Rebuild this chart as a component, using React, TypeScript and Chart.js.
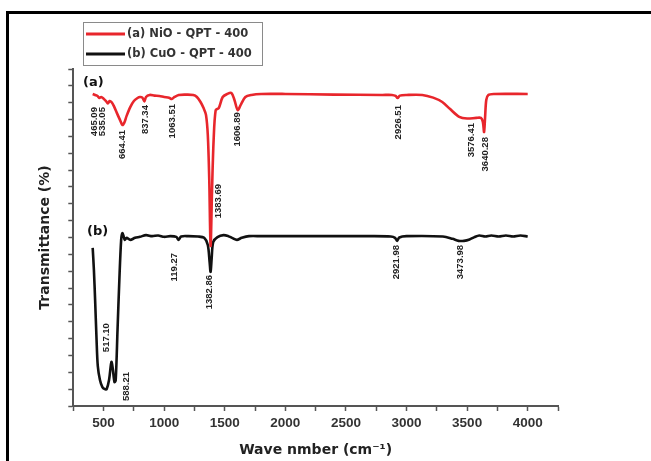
import { useEffect, useRef } from 'react';
import { Chart, registerables } from 'chart.js';

Chart.register(...registerables);

// ---- data (x: wave number in cm-1, y: transmittance, arbitrary offset units) ----
const niOWave = [410, 430, 450, 465, 480, 500, 520, 535, 550, 565, 585, 610, 635, 655, 670, 690, 720, 750, 780, 800, 820, 837, 850, 880, 920, 960, 1000, 1040, 1063, 1085, 1120, 1180, 1240, 1270, 1300, 1325, 1345, 1360, 1372, 1383, 1395, 1408, 1425, 1450, 1483, 1520, 1555, 1580, 1607, 1635, 1670, 1720, 1800, 2000, 2400, 2800, 2880, 2910, 2926, 2945, 3000, 3130, 3220, 3295, 3360, 3435, 3500, 3576, 3614, 3630, 3640, 3648, 3658, 3675, 3720, 4000];
const niOTrans = [92.6, 92.3, 92.0, 91.4, 91.7, 91.2, 90.5, 89.8, 90.5, 90.2, 89.0, 86.9, 84.9, 83.4, 84.0, 86.1, 88.7, 90.5, 91.4, 91.7, 91.5, 90.4, 91.7, 92.3, 92.1, 92.0, 91.7, 91.5, 91.1, 91.7, 92.3, 92.4, 92.3, 91.7, 90.2, 88.4, 86.4, 80.4, 67.1, 47.5, 64.1, 78.9, 87.8, 88.4, 91.7, 92.6, 92.9, 90.8, 87.8, 89.6, 91.7, 92.3, 92.6, 92.6, 92.4, 92.3, 92.3, 92.0, 91.4, 92.1, 92.3, 92.3, 91.5, 90.2, 88.1, 85.8, 85.3, 85.5, 85.5, 84.3, 81.3, 85.5, 90.8, 92.3, 92.6, 92.6];

const cuOWave = [410, 420, 430, 442, 452, 470, 490, 510, 525, 545, 560, 566, 575, 590, 600, 615, 630, 645, 655, 665, 675, 690, 720, 760, 800, 850, 900, 950, 1000, 1050, 1100, 1119, 1140, 1200, 1280, 1330, 1360, 1375, 1383, 1392, 1405, 1440, 1490, 1530, 1560, 1600, 1640, 1700, 1800, 2200, 2700, 2870, 2905, 2922, 2940, 3000, 3300, 3380, 3430, 3474, 3520, 3560, 3600, 3650, 3700, 3760, 3820, 3880, 3940, 4000];
const cuOTrans = [46.9, 40.4, 31.5, 19.6, 11.9, 7.7, 5.6, 5.0, 5.0, 7.7, 12.2, 13.1, 11.3, 7.1, 7.7, 22.6, 37.4, 49.3, 51.3, 50.4, 49.3, 49.9, 49.3, 49.9, 50.2, 50.7, 50.4, 50.6, 50.2, 50.4, 50.2, 49.3, 50.3, 50.4, 50.3, 49.9, 47.8, 42.7, 39.8, 43.9, 48.7, 50.1, 50.7, 50.4, 49.9, 49.3, 49.9, 50.4, 50.4, 50.4, 50.4, 50.3, 49.9, 49.0, 50.0, 50.4, 50.3, 49.6, 49.0, 49.0, 49.4, 50.1, 50.6, 50.3, 50.6, 50.3, 50.6, 50.3, 50.6, 50.3];

// peak annotations: text, anchor wave number, anchor (top of label) in y units
const niOPeakText = ['465.09', '535.05', '664.41', '837.34', '1063.51', '1383.69', '1606.89', '2926.51', '3576.41', '3640.28'];
const niOPeakX = [420, 486, 659, 841, 1071, 1450, 1607, 2932, 3533, 3648];
const niOPeakY = [88.7, 88.7, 81.9, 89.3, 89.6, 65.9, 87.2, 89.3, 84.0, 79.8];

const cuOPeakText = ['517.10', '588.21', '119.27', '1382.86', '2921.98', '3473.98'];
const cuOPeakX = [523, 684, 1088, 1376, 2916, 3444];
const cuOPeakY = [24.6, 10.1, 45.4, 38.9, 47.8, 47.8];

const panelText = ['(a)', '(b)'];
const panelX = [330, 363];
const panelY = [96.1, 51.6];

const seriesLabels = ['(a) NiO - QPT - 400', '(b) CuO - QPT - 400'];
const seriesColors = ['#e8262c', '#111111'];

const xMin = 250;
const xMax = 4250;
const xStep = 250;
const xLabelStep = 500;

const annotationPlugin = {
  id: 'ftirAnnotations',
  afterDatasetsDraw(chart: any) {
    const { ctx, scales } = chart;
    const xs = scales.x;
    const ys = scales.y;
    ctx.save();
    // rotated peak labels
    ctx.fillStyle = '#222';
    ctx.font = 'bold 9.5px "Liberation Sans", Arial, sans-serif';
    const drawRot = (t: string, xv: number, yv: number) => {
      ctx.save();
      ctx.translate(xs.getPixelForValue(xv), ys.getPixelForValue(yv));
      ctx.rotate(-Math.PI / 2);
      ctx.textAlign = 'right';
      ctx.textBaseline = 'middle';
      ctx.fillText(t, 0, 0);
      ctx.restore();
    };
    niOPeakText.forEach((t, i) => drawRot(t, niOPeakX[i], niOPeakY[i]));
    cuOPeakText.forEach((t, i) => drawRot(t, cuOPeakX[i], cuOPeakY[i]));
    // panel labels
    ctx.font = 'bold 13px "DejaVu Sans", sans-serif';
    ctx.fillStyle = '#111';
    ctx.textAlign = 'left';
    ctx.textBaseline = 'middle';
    panelText.forEach((t, i) => ctx.fillText(t, xs.getPixelForValue(panelX[i]), ys.getPixelForValue(panelY[i])));
    // legend box
    const bx = 83, by = 22, bw = 179, bh = 43;
    ctx.strokeStyle = '#8a8a8a';
    ctx.lineWidth = 1;
    ctx.strokeRect(bx + 0.5, by + 0.5, bw, bh);
    ctx.font = 'bold 11.5px "DejaVu Sans", sans-serif';
    ctx.textBaseline = 'middle';
    ctx.textAlign = 'left';
    chart.data.datasets.forEach((ds: any, i: number) => {
      const yy = by + 12 + i * 20;
      ctx.strokeStyle = ds.borderColor;
      ctx.lineWidth = 3;
      ctx.beginPath();
      ctx.moveTo(bx + 3, yy);
      ctx.lineTo(bx + 42, yy);
      ctx.stroke();
      ctx.fillStyle = '#333';
      ctx.fillText(ds.label, bx + 44, yy);
    });
    ctx.restore();
  },
};

export default function App() {
  const ref = useRef<HTMLCanvasElement | null>(null);
  useEffect(() => {
    if (!ref.current) return;
    const chart = new Chart(ref.current, {
      type: 'line',
      data: {
        datasets: [
          {
            label: seriesLabels[0],
            data: niOWave.map((x, i) => ({ x, y: niOTrans[i] })),
            borderColor: seriesColors[0],
            borderWidth: 2.6,
            pointRadius: 0,
            tension: 0.3,
            fill: false,
          },
          {
            label: seriesLabels[1],
            data: cuOWave.map((x, i) => ({ x, y: cuOTrans[i] })),
            borderColor: seriesColors[1],
            borderWidth: 2.6,
            pointRadius: 0,
            tension: 0.3,
            fill: false,
          },
        ],
      },
      options: {
        responsive: false,
        animation: false,
        devicePixelRatio: 1,
        layout: { padding: { left: 0, top: 69, right: 93, bottom: 0 } },
        plugins: { legend: { display: false }, tooltip: { enabled: false } },
        scales: {
          x: {
            type: 'linear',
            min: xMin,
            max: xMax,
            border: { color: '#555', width: 2 },
            grid: { drawOnChartArea: false, drawTicks: true, tickLength: 5, tickColor: '#555', tickWidth: 1.5 },
            ticks: {
              stepSize: xStep,
              autoSkip: false,
              maxRotation: 0,
              padding: 4,
              color: '#333',
              font: { family: '"Liberation Sans", Arial, sans-serif', size: 13.5, weight: 'bold' },
              callback: (v: any) => (Number(v) % xLabelStep === 0 ? String(v) : ''),
            },
            title: {
              display: true,
              text: 'Wave nmber (cm⁻¹)',
              color: '#222',
              font: { family: '"DejaVu Sans", sans-serif', size: 14, weight: 'bold' },
              padding: { top: 0, bottom: 2.6 },
            },
            afterFit: (s: any) => { s.height = 55; },
          },
          y: {
            type: 'linear',
            min: 0,
            max: 100,
            border: { color: '#555', width: 2 },
            grid: { drawOnChartArea: false, drawTicks: true, tickLength: 5, tickColor: '#555', tickWidth: 1.5 },
            ticks: { stepSize: 5, display: false },
            title: {
              display: true,
              text: 'Transmittance (%)',
              color: '#222',
              font: { family: '"DejaVu Sans", sans-serif', size: 14, weight: 'bold' },
              padding: { top: 36.6, bottom: 0 },
            },
            afterFit: (s: any) => { s.width = 73.3; },
          },
        },
      },
      plugins: [annotationPlugin],
    } as any);
    return () => chart.destroy();
  }, []);

  return (
    <div style={{ position: 'fixed', left: 0, top: 0, width: 651, height: 461, background: '#fff', overflow: 'hidden' }}>
      <div style={{ position: 'absolute', left: 6, top: 11, width: 700, height: 500, borderLeft: '3px solid #000', borderTop: '3px solid #000' }} />
      <canvas ref={ref} width={651} height={461} style={{ position: 'absolute', left: 0, top: 0, width: 651, height: 461 }} />
    </div>
  );
}
